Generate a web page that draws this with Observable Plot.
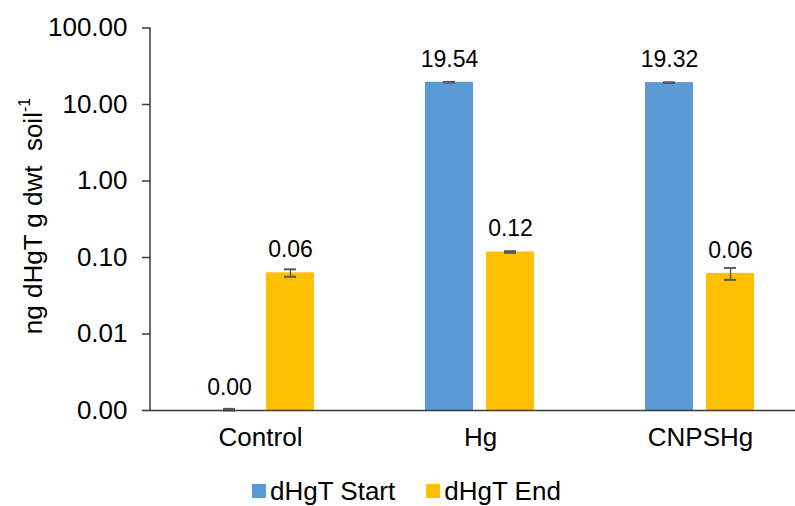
<!DOCTYPE html>
<html><head><meta charset="utf-8">
<script src="https://cdn.jsdelivr.net/npm/d3@7"></script>
<script src="https://cdn.jsdelivr.net/npm/@observablehq/plot@0.6"></script>
<style>
html,body{margin:0;padding:0;background:#fff;}
body{width:795px;height:506px;overflow:hidden;position:relative;font-family:"Liberation Sans",Arial,sans-serif;}
#legend{position:absolute;left:252px;top:476px;display:flex;align-items:center;font-size:26px;line-height:30px;color:#000;white-space:nowrap;}
#legend .item{display:flex;align-items:center;margin-right:31px;}
#legend .sw{width:14px;height:14px;margin-right:4px;}
</style></head><body>
<div id="chart"></div>
<div id="legend"></div>
<script>
const groups = ["Control", "Hg", "CNPSHg"];
const series = ["dHgT Start", "dHgT End"];
const startValues = [0.001, 19.54, 19.32];
const startErrors = [0.00005, 0.2, 0.2];
const endValues = [0.063, 0.118, 0.062];
const endErrors = [0.007, 0.003, 0.011];
const yTicks = [0.001, 0.01, 0.1, 1, 10, 100];
const colors = ["#5B9BD5", "#FFC000"];

const data = groups.flatMap((g, i) => [
  {group: g, series: series[0], value: startValues[i], err: startErrors[i]},
  {group: g, series: series[1], value: endValues[i], err: endErrors[i]}
]);
const yMin = yTicks[0];
const lo = d => Math.max(d.value - d.err, yMin);
const hi = d => d.value + d.err;
const fmt = d3.format(".2f");
const axisColor = "#3a3a3a";
const errColor = "#595959";

const H = 474;
const chart = Plot.plot({
  width: 795,
  height: H,
  marginLeft: 150,
  marginRight: -15,
  marginTop: 27.5,
  marginBottom: H - 410,
  style: {fontFamily: "'Liberation Sans', Arial, sans-serif", background: "#fff", color: "#000", overflow: "hidden"},
  fx: {domain: groups, padding: 0, label: null},
  x: {domain: series, paddingInner: 0.21, paddingOuter: 0.88, axis: null},
  y: {type: "log", domain: [yMin, 100]},
  color: {domain: series, range: colors},
  marks: [
    Plot.barY(data, {fx: "group", x: "series", y1: () => yMin, y2: "value", fill: "series"}),
    Plot.ruleX(data, {fx: "group", x: "series", y1: lo, y2: hi, stroke: errColor, strokeWidth: 1.5}),
    Plot.tickY(data, {fx: "group", x: "series", y: lo, stroke: errColor, strokeWidth: 2, insetLeft: 18, insetRight: 18}),
    Plot.tickY(data, {fx: "group", x: "series", y: hi, stroke: errColor, strokeWidth: 2, insetLeft: 18, insetRight: 18}),
    Plot.text(data, {fx: "group", x: "series", y: "value", text: d => fmt(d.value), dy: -23, fontSize: 23, fill: "#000"}),
    Plot.ruleY([yMin], {stroke: axisColor, strokeWidth: 1.5}),
    Plot.axisY({ticks: yTicks, tickFormat: fmt, tickSize: 8, tickPadding: 15, fontSize: 26, stroke: axisColor, strokeWidth: 1.5, label: null}),
    Plot.axisFx({anchor: "bottom", tickSize: 0, tickPadding: 17, fontSize: 26, label: null})
  ]
});
document.getElementById("chart").appendChild(chart);

// y-axis line and title
const ys = chart.scale("y");
const yScale = d3.scaleLog().domain(ys.domain).range(ys.range);
const svg = d3.select(chart);
svg.append("line")
  .attr("x1", 150).attr("x2", 150)
  .attr("y1", yScale(100)).attr("y2", yScale(yMin))
  .attr("stroke", axisColor).attr("stroke-width", 1.5);
const title = svg.append("text")
  .attr("transform", "translate(35,216) rotate(-90)")
  .attr("text-anchor", "middle")
  .attr("dominant-baseline", "middle")
  .attr("font-size", 26)
  .attr("fill", "#000")
  .attr("font-family", "'Liberation Sans', Arial, sans-serif");
title.append("tspan").text("ng dHgT g dwt  soil");
title.append("tspan").attr("font-size", 16).attr("dy", -9).text("-1");

// legend
const leg = d3.select("#legend");
series.forEach((s, i) => {
  const it = leg.append("div").attr("class", "item");
  it.append("div").attr("class", "sw").style("background", colors[i]);
  it.append("span").text(s);
});
</script>
</body></html>
